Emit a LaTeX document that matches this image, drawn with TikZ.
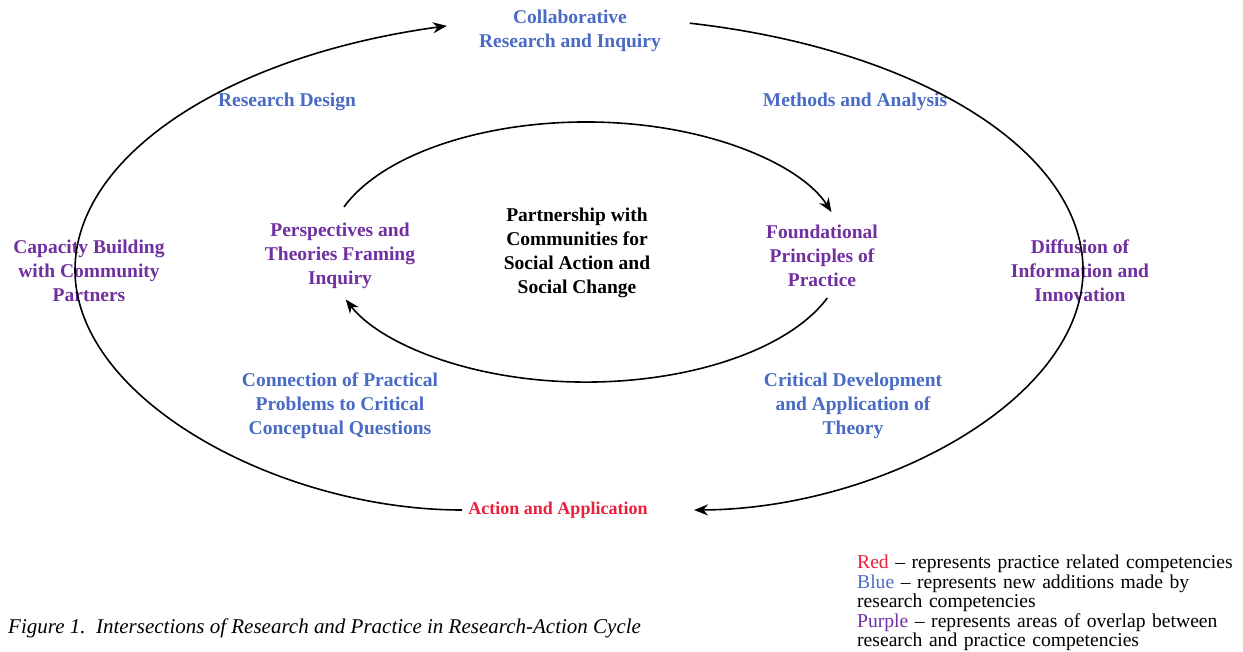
\documentclass[tikz,border=0pt]{standalone}
\usepackage{fontspec}
\setmainfont{Liberation Serif}
\usetikzlibrary{arrows.meta}
\definecolor{lblblue}{HTML}{4A6BC4}
\definecolor{lblpurple}{HTML}{7030A0}
\definecolor{lblred}{HTML}{E8203A}
\begin{document}
\begin{tikzpicture}[x=1pt,y=-1pt,
  lbl/.style={font=\fontsize{19.5}{24}\selectfont\bfseries, align=center, inner sep=0pt},
  bluelbl/.style={lbl, text=lblblue},
  purplelbl/.style={lbl, text=lblpurple},
  cyc/.style={line width=1.6pt, -{Stealth[length=14pt,width=11pt]}},
  legendtxt/.style={font=\fontsize{19.6}{19.5}\selectfont, align=left, inner sep=0pt, anchor=north west, text width=390pt},
  captiontxt/.style={font=\fontsize{21}{24}\selectfont\itshape, inner sep=0pt, anchor=west}]
\path[fill=white, use as bounding box] (0,0) rectangle (1243,651);

% labels
\node[bluelbl] (collab) at (570,31) {Collaborative\\Research and Inquiry};
\node[bluelbl] (design) at (287,102) {Research Design};
\node[bluelbl] (methods) at (855,102) {Methods and Analysis};
\node[purplelbl] (persp) at (340,256) {Perspectives and\\Theories Framing\\Inquiry};
\node[lbl, text=black] (partner) at (577,253) {Partnership with\\Communities for\\Social Action and\\Social Change};
\node[purplelbl] (found) at (822,256) {Foundational\\Principles of\\Practice};
\node[purplelbl] (capacity) at (89,271) {Capacity Building\\with Community\\Partners};
\node[purplelbl] (diffusion) at (1080,271) {Diffusion of\\Information and\\Innovation};
\node[bluelbl] (connect) at (340,406) {Connection of Practical\\Problems to Critical\\Conceptual Questions};
\node[bluelbl] (critical) at (853,406) {Critical Development\\and Application of\\Theory};
\node[lbl, font=\fontsize{18}{22}\selectfont\bfseries, text=lblred] (action) at (558,510) {Action and Application};

% outer cycle
\coordinate (oLs) at (462,510);
\coordinate (oRs) at (689.8,23.2);
\coordinate (oRe) at (694,510);
\draw[cyc] (oLs) .. controls (280,510) and (75,400) .. (75,270)
  arc[start angle=180, end angle=254.8, x radius=504, y radius=253];
\draw[cyc] (oRs) arc[start angle=-77.3, end angle=0, x radius=504, y radius=253]
  .. controls (1083,400) and (880,509) .. (oRe);

% inner cycle
\coordinate (iUs) at (344.0,206.9);
\coordinate (iLs) at (827.3,298.0);
\draw[cyc] (iUs) arc[start angle=200.3, end angle=342.1, x radius=258, y radius=130];
\draw[cyc] (iLs) arc[start angle=20.7, end angle=158.6, x radius=258, y radius=130];

% legend
\node[legendtxt] (legend) at (857,555) {\textcolor{lblred}{Red} -- represents practice related competencies\\
\textcolor{lblblue}{Blue} -- represents new additions made by\\
research competencies\\
\textcolor{lblpurple}{Purple} -- represents areas of overlap between\\
research and practice competencies};

% caption
\node[captiontxt] (caption) at (8,628) {Figure 1.\ \ Intersections of Research and Practice in Research-Action Cycle};
\end{tikzpicture}
\end{document}
